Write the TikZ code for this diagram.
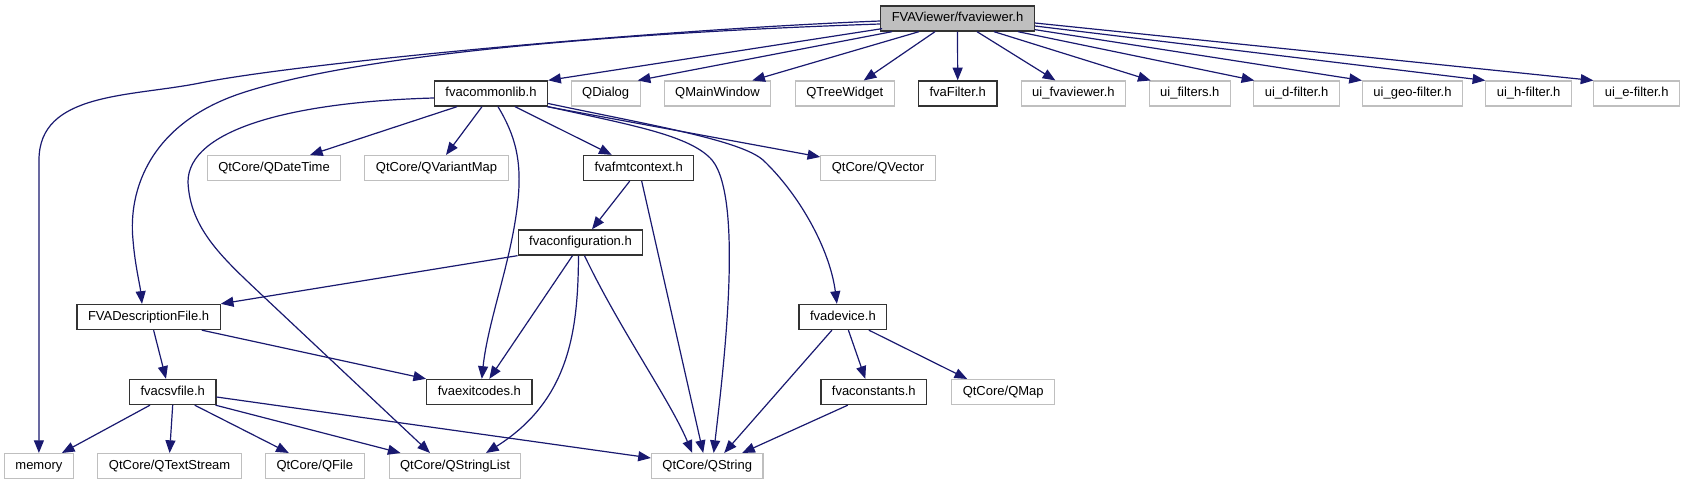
\documentclass[tikz,border=0pt]{standalone}
\usepackage{fontspec}
\setmainfont{Liberation Sans}
\usepackage{xcolor}
\usepackage{tikz}
\usetikzlibrary{
  arrows.meta,
  calc,
}
\definecolor{edgeblue}{HTML}{191970}
\definecolor{extgray}{HTML}{BFBFBF}

\begin{document}
\begin{tikzpicture}[x=0.75pt, y=-0.75pt,
  box/.style={rectangle, inner xsep=8.25pt, inner ysep=0pt,
    minimum height=18.75pt, text height=7.1pt, text depth=2.1pt,
    font=\fontsize{9.75}{11}\selectfont},
  file/.style={box, draw=black!80, line width=1pt},
  ext/.style={box, draw=extgray, line width=0.8pt},
  dep/.style={edgeblue, line width=0.9pt, -{Triangle[length=9.5pt, width=7.5pt]}},
]
  \path[use as bounding box, fill=white] (0,0) rectangle (1684,485);
  % top row
  \node[file, fill=extgray] (root) at (957.5,18.5) {FVAViewer/fvaviewer.h};
  % second row
  \node[file] (lib)         at (491,93.5)    {fvacommonlib.h};
  \node[ext]  (qdialog)     at (605.7,93.5)  {QDialog};
  \node[ext]  (qmainwindow) at (717.5,93.5)  {QMainWindow};
  \node[ext]  (qtreewidget) at (844.7,93.5)  {QTreeWidget};
  \node[file] (filter)      at (957.7,93.5)  {fvaFilter.h};
  \node[ext]  (uiviewer)    at (1073.4,93.5) {ui\_fvaviewer.h};
  \node[ext]  (uifilters)   at (1189.8,93.5) {ui\_filters.h};
  \node[ext]  (uidfilter)   at (1296.6,93.5) {ui\_d-filter.h};
  \node[ext]  (uigeofilter) at (1412.5,93.5) {ui\_geo-filter.h};
  \node[ext]  (uihfilter)   at (1528.6,93.5) {ui\_h-filter.h};
  \node[ext]  (uiefilter)   at (1636.7,93.5) {ui\_e-filter.h};
  % third row
  \node[ext]  (qdatetime)   at (274,168)     {QtCore/QDateTime};
  \node[ext]  (qvariantmap) at (436.5,168)   {QtCore/QVariantMap};
  \node[file] (fmtctx)      at (638.7,168)   {fvafmtcontext.h};
  \node[ext]  (qvector)     at (878,168)     {QtCore/QVector};
  % middle rows
  \node[file] (config)      at (580.5,242.5) {fvaconfiguration.h};
  \node[file] (descfile)    at (148.6,317)   {FVADescriptionFile.h};
  \node[file] (device)      at (842.9,317)   {fvadevice.h};
  \node[file] (csvfile)     at (172.7,392)   {fvacsvfile.h};
  \node[file] (exitcodes)   at (479.3,392)   {fvaexitcodes.h};
  \node[file] (constants)   at (873.8,392)   {fvaconstants.h};
  \node[ext]  (qmap)        at (1003.2,392)  {QtCore/QMap};
  % bottom row
  \node[ext]  (memory)      at (38.9,466)    {memory};
  \node[ext]  (qtextstream) at (169.6,466)   {QtCore/QTextStream};
  \node[ext]  (qfile)       at (314.8,466)   {QtCore/QFile};
  \node[ext]  (qstringlist) at (455,466)     {QtCore/QStringList};
  \node[ext]  (qstring)     at (707.2,466)   {QtCore/QString};

  % edges from the root
  \draw[dep] ($(root.west)+(0,2.5)$) .. controls (650,30) and (300,63) .. (200,83)
    .. controls (130,97) and (39,92) .. (39,160) -- (memory.north);
  \draw[dep] ($(root.west)+(0,5.5)$) .. controls (640,32) and (370,52) .. (245,92)
    .. controls (150,122) and (128,190) .. (133,240)
    .. controls (135,265) and (140,285) .. ($(descfile.north)+(-6.6,0)$);
  \draw[dep] ($(root.south west)+(2,-3)$) -- (lib.north east);
  \draw[dep] ($(root.south)+(-65.5,0)$) -- ($(qdialog.north east)+(-3,0)$);
  \draw[dep] ($(root.south)+(-38.5,0)$) -- ($(qmainwindow.north east)+(-19,0)$);
  \draw[dep] ($(root.south)+(-22.5,0)$) -- ($(qtreewidget.north)+(19,0)$);
  \draw[dep] (root.south) -- (filter.north);
  \draw[dep] ($(root.south)+(19.5,0)$) -- ($(uiviewer.north)+(-18,0)$);
  \draw[dep] ($(root.south)+(36.5,0)$) -- ($(uifilters.north west)+(2,0)$);
  \draw[dep] ($(root.south east)+(-17,0)$) -- ($(uidfilter.north west)+(1,0)$);
  \draw[dep] ($(root.south east)+(0,-2)$) -- (uigeofilter.north west);
  \draw[dep] ($(root.east)+(0,7.5)$) -- (uihfilter.north west);
  \draw[dep] ($(root.east)+(0,4.5)$) -- (uiefilter.north west);

  % edges from fvacommonlib.h
  \draw[dep] ($(lib.south)+(-34,0)$) -- ($(qdatetime.north)+(36,0)$);
  \draw[dep] ($(lib.south)+(-9,0)$) -- ($(qvariantmap.north)+(9.5,0)$);
  \draw[dep] ($(lib.south)+(24,0)$) -- ($(fmtctx.north)+(-27,0)$);
  \draw[dep] ($(lib.south east)+(-1,0)$) -- ($(qvector.north west)+(0,2)$);
  \draw[dep] (lib.south east) .. controls (630,125) and (690,135) .. (712,160)
    .. controls (745,200) and (722,380) .. ($(qstring.north)+(6.5,0)$);
  \draw[dep] ($(lib.east)+(0,10)$) .. controls (650,125) and (740,140) .. (763,160)
    .. controls (800,195) and (830,250) .. ($(device.north)+(-6,0)$);
  \draw[dep] ($(lib.south)+(7,0)$) .. controls (515,135) and (522,160) .. (518,200)
    .. controls (512,260) and (488,320) .. ($(exitcodes.north)+(2.5,0)$);
  \draw[dep] ($(lib.west)+(0,4.5)$) .. controls (290,102) and (188,130) .. (188,182)
    .. controls (190,230) and (225,260) .. (264,297) -- ($(qstringlist.north)+(-25,0)$);

  % edges from fvafmtcontext.h and fvaconfiguration.h
  \draw[dep] ($(fmtctx.south)+(-9,0)$) -- ($(config.north)+(11.5,0)$);
  \draw[dep] ($(fmtctx.south)+(3,0)$) -- ($(qstring.north)+(-4,0)$);
  \draw[dep] (config.south west) -- (descfile.north east);
  \draw[dep] ($(config.south)+(-8,0)$) -- ($(exitcodes.north)+(10,0)$);
  \draw[dep] ($(config.south)+(-2,0)$) .. controls (578,330) and (570,400) .. ($(qstringlist.north)+(31,0)$);
  \draw[dep] ($(config.south)+(4,0)$) .. controls (620,330) and (670,400) .. ($(qstring.north)+(-15,0)$);

  % edges from FVADescriptionFile.h and fvacsvfile.h
  \draw[dep] ($(descfile.south)+(5,0)$) -- ($(csvfile.north)+(-6.7,0)$);
  \draw[dep] ($(descfile.south east)+(-19,0)$) -- (exitcodes.north west);
  \draw[dep] ($(csvfile.south)+(-22.7,0)$) -- ($(memory.north east)+(-12,0)$);
  \draw[dep] (csvfile.south) -- (qtextstream.north);
  \draw[dep] ($(csvfile.south)+(22,0)$) -- ($(qfile.north)+(-26,0)$);
  \draw[dep] ($(csvfile.south east)+(-1,0)$) -- ($(qstringlist.north west)+(12,0)$);
  \draw[dep] ($(csvfile.east)+(0,5)$) -- ($(qstring.west)+(0,-8)$);

  % edges from fvadevice.h and fvaconstants.h
  \draw[dep] ($(device.south)+(-11,0)$) -- ($(qstring.north)+(17,0)$);
  \draw[dep] ($(device.south)+(5.5,0)$) -- ($(constants.north)+(-8.5,0)$);
  \draw[dep] ($(device.south)+(26,0)$) -- ($(qmap.north)+(-36,0)$);
  \draw[dep] ($(constants.south)+(-26,0)$) -- ($(qstring.north)+(35,0)$);
\end{tikzpicture}
\end{document}
